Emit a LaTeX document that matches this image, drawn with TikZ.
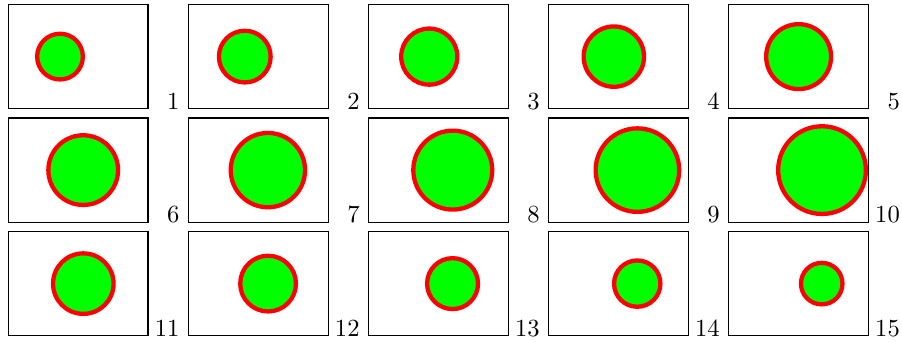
\documentclass[tikz,border=0pt]{standalone}
\begin{document}
\begin{tikzpicture}[x=0.4065pt,y=-0.4065pt,
  framebox/.style={draw=black, line width=0.45pt},
  ball/.style={draw=red, fill=green, line width=1.75pt},
  framelabel/.style={anchor=base east, inner sep=0pt, font=\normalsize}]
\useasboundingbox (0,0) rectangle (902,341);
\foreach \n/\cx/\rad in {1/51.7/25, 2/56.4/28, 3/60.8/30.2, 4/65.3/32.3, 5/70/34.6,
  6/74.9/37, 7/79.5/39.3, 8/84.3/41.6, 9/88.9/43.9, 10/93.4/46,
  11/75/32.4, 12/79.7/30, 13/84.1/27.6, 14/88.7/25.3, 15/93.1/22.9} {
  \pgfmathtruncatemacro\colidx{mod(\n-1,5)}
  \pgfmathtruncatemacro\rowidx{div(\n-1,5)}
  \pgfmathsetmacro\fx{8.5+180.08*\colidx}
  \pgfmathsetmacro\fy{4.5+113.5*\rowidx}
  \draw[framebox] (\fx,\fy) rectangle ++(139.5,104.3);
  \draw[ball] (\fx+\cx-0.2,\fy+52.1) circle[radius=\rad-2.15];
  \node[framelabel] (lab\n) at (\fx+139.5+32,\fy+104.8) {\n};
}
\end{tikzpicture}
\end{document}
